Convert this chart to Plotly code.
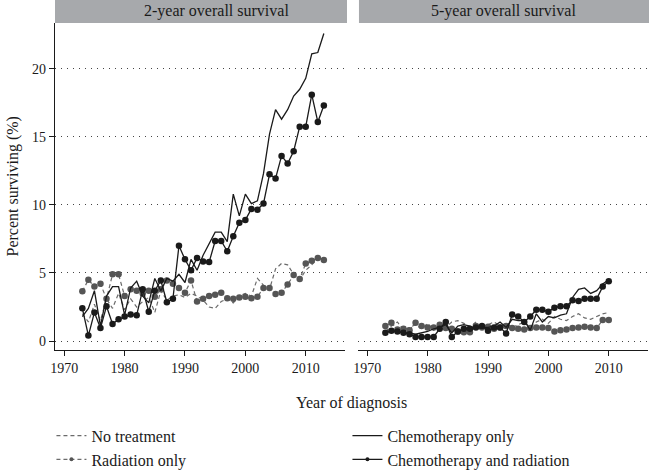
import plotly.graph_objects as go

# ---------------- data ----------------
years_2yr = [1973, 1974, 1975, 1976, 1977, 1978, 1979, 1980, 1981, 1982,
             1983, 1984, 1985, 1986, 1987, 1988, 1989, 1990, 1991, 1992,
             1993, 1994, 1995, 1996, 1997, 1998, 1999, 2000, 2001, 2002,
             2003, 2004, 2005, 2006, 2007, 2008, 2009, 2010, 2011, 2012, 2013]

no_treatment_2yr = [2.0, 1.4, 2.7, 1.5, 3.1, 2.4, 3.5, 2.3, 3.1, 2.5,
                    2.9, 3.2, 2.1, 3.7, 3.0, 3.3, 3.4, 3.2, 3.5, 3.3,
                    3.0, 2.5, 2.4, 2.9, 3.1, 2.8, 3.3, 3.5, 3.3, 4.6,
                    4.1, 3.8, 5.3, 5.7, 5.6, 4.9, 4.5, 5.2, 5.6, 6.1, 5.8]

radiation_2yr = [3.65, 4.5, 4.0, 4.2, 3.1, 4.9, 4.9, 3.3, 3.8, 3.7,
                 3.5, 3.7, 3.25, 3.8, 4.45, 4.2, 3.9, 3.55, 4.45, 2.9,
                 3.1, 3.3, 3.4, 3.55, 3.15, 3.1, 3.2, 3.25, 3.15, 3.25,
                 3.9, 3.9, 3.45, 3.55, 4.15, 4.85, 4.55, 5.7, 5.9, 6.1, 5.95]

chemo_2yr = [1.8, 2.4, 3.7, 1.1, 3.3, 4.0, 4.0, 1.9, 3.9, 4.4,
             3.3, 2.8, 4.6, 3.7, 4.6, 4.4, 4.9, 4.3, 6.0, 5.2,
             6.3, 7.2, 8.0, 8.0, 7.3, 10.8, 9.2, 10.8, 10.1, 10.3,
             12.3, 15.2, 17.0, 16.3, 17.0, 18.0, 18.5, 19.3, 21.1, 21.2, 22.6]

chemo_rad_2yr = [2.4, 0.4, 2.1, 0.95, 2.55, 1.25, 1.6, 1.8, 1.95, 1.9,
                 3.8, 2.15, 3.7, 4.45, 2.85, 3.1, 7.0, 6.0, 5.2, 6.1,
                 5.85, 5.8, 7.35, 7.35, 6.6, 7.7, 8.7, 8.9, 9.7, 9.65,
                 10.1, 12.25, 11.95, 13.6, 13.05, 13.95, 15.75, 15.75, 18.1, 16.1, 17.3]

years_5yr = [1973, 1974, 1975, 1976, 1977, 1978, 1979, 1980, 1981, 1982,
             1983, 1984, 1985, 1986, 1987, 1988, 1989, 1990, 1991, 1992,
             1993, 1994, 1995, 1996, 1997, 1998, 1999, 2000, 2001, 2002,
             2003, 2004, 2005, 2006, 2007, 2008, 2009, 2010]

no_treatment_5yr = [0.7, 1.1, 1.4, 0.8, 1.0, 1.2, 0.9, 1.3, 0.8, 1.3,
                    1.0, 1.4, 1.5, 1.3, 1.0, 1.4, 0.9, 1.2, 1.4, 1.1,
                    1.3, 1.0, 1.2, 1.4, 1.0, 1.4, 1.6, 1.3, 1.8, 1.6,
                    1.5, 1.8, 2.0, 1.7, 1.6, 1.8, 2.0, 2.1]

radiation_5yr = [1.1, 1.35, 0.85, 0.9, 0.8, 1.35, 1.1, 1.0, 1.0, 1.2,
                 0.95, 0.9, 0.7, 0.65, 0.65, 1.1, 1.0, 1.05, 0.9, 1.0,
                 1.1, 0.95, 0.9, 0.85, 0.95, 1.0, 1.0, 0.95, 0.7, 0.8,
                 0.85, 0.95, 1.0, 1.05, 1.0, 0.95, 1.55, 1.55]

chemo_5yr = [0.7, 0.7, 0.7, 0.6, 0.6, 0.5, 0.6, 0.7, 0.9, 1.0,
             1.2, 0.6, 1.1, 1.2, 1.1, 0.9, 1.0, 1.0, 1.1, 1.4,
             1.0, 1.6, 1.5, 1.5, 0.8, 2.0, 1.4, 1.8, 1.7, 1.9,
             2.0, 3.2, 3.8, 3.9, 3.5, 3.7, 4.2, 4.5]

chemo_rad_5yr = [0.6, 0.75, 0.7, 0.6, 0.5, 0.3, 0.3, 0.3, 0.3, 0.9,
                 1.4, 0.3, 0.7, 0.9, 0.9, 1.0, 1.1, 0.75, 1.0, 1.0,
                 0.55, 1.95, 1.8, 1.4, 1.8, 2.3, 2.3, 2.15, 2.45, 2.55,
                 2.55, 3.0, 2.95, 3.1, 3.1, 3.1, 4.0, 4.4]

panel_titles = ["2-year overall survival", "5-year overall survival"]
series_names = ["No treatment", "Chemotherapy only", "Radiation only",
                "Chemotherapy and radiation"]
x_ticks = [1970, 1980, 1990, 2000, 2010]
y_ticks = [0, 5, 10, 15, 20]

# ---------------- styling ----------------
FONT = "Liberation Serif"
GRAY = "#6b6b6b"
DGRAY = "#555555"
BLACK = "#1a1a1a"

styles = {
    "No treatment": dict(mode="lines", line=dict(color=GRAY, width=1.2, dash="4px,3px")),
    "Radiation only": dict(mode="lines+markers", line=dict(color=GRAY, width=1.2, dash="4px,3px"),
                           marker=dict(color=DGRAY, size=6.5)),
    "Chemotherapy only": dict(mode="lines", line=dict(color=BLACK, width=1.3)),
    "Chemotherapy and radiation": dict(mode="lines+markers", line=dict(color=BLACK, width=1.3),
                                       marker=dict(color=BLACK, size=6.5)),
}

fig = go.Figure()

panels = [
    ("x", "y", years_2yr, {"No treatment": no_treatment_2yr, "Radiation only": radiation_2yr,
                           "Chemotherapy only": chemo_2yr, "Chemotherapy and radiation": chemo_rad_2yr}),
    ("x2", "y2", years_5yr, {"No treatment": no_treatment_5yr, "Radiation only": radiation_5yr,
                             "Chemotherapy only": chemo_5yr, "Chemotherapy and radiation": chemo_rad_5yr}),
]

draw_order = ["No treatment", "Radiation only", "Chemotherapy only", "Chemotherapy and radiation"]
for xa, ya, yrs, data in panels:
    for name in draw_order:
        fig.add_trace(go.Scatter(x=yrs, y=data[name], name=name, xaxis=xa, yaxis=ya,
                                 showlegend=False, hoverinfo="skip", **styles[name]))

# legend-only entries (small markers like the reference key)
for name in series_names:
    st = dict(styles[name])
    if "marker" in st:
        st["marker"] = dict(st["marker"], size=4)
    fig.add_trace(go.Scatter(x=[None], y=[None], name=name, showlegend=True, **st))

axis_common = dict(range=[1968.47, 2016.5], tickvals=x_ticks, ticks="outside", ticklen=5,
                   tickwidth=1.1, tickcolor=BLACK, showline=True, linecolor=BLACK, linewidth=1.2,
                   showgrid=False, zeroline=False, tickfont=dict(family=FONT, size=14, color=BLACK))
grid_common = dict(range=[-0.66, 23.37], tickvals=y_ticks, showgrid=True, gridcolor="#444444",
                   gridwidth=1.1, griddash="1px,5px", zeroline=False)

fig.update_layout(
    width=649, height=470,
    margin=dict(l=55, r=1, t=23, b=120, autoexpand=False),
    paper_bgcolor="white", plot_bgcolor="white",
    font=dict(family=FONT, size=16, color=BLACK),
    xaxis=dict(domain=[0, 0.489], anchor="y", **axis_common),
    xaxis2=dict(domain=[0.511, 1.0], anchor="y2", **axis_common),
    yaxis=dict(anchor="x", ticks="outside", ticklen=5, tickwidth=1.1, tickcolor=BLACK,
               showline=True, linecolor=BLACK, linewidth=1.2,
               tickfont=dict(family=FONT, size=14, color=BLACK), **grid_common),
    yaxis2=dict(anchor="x2", matches="y", showticklabels=False, ticks="", showline=False, **grid_common),
    showlegend=True,
    legend=dict(orientation="h", x=-0.006, xanchor="left", y=-0.21, yanchor="top",
                entrywidth=251, entrywidthmode="pixels", itemwidth=30,
                font=dict(family=FONT, size=16, color=BLACK), bgcolor="rgba(0,0,0,0)",
                traceorder="normal", tracegroupgap=0),
)

# strip headers
strip_h = 23 / 327
for (x0, x1), title, tx in zip([(0, 0.4924), (0.5126, 1.002)], panel_titles, [0.273, 0.756]):
    fig.add_shape(type="rect", xref="paper", yref="paper", x0=x0, x1=x1, y0=1.0, y1=1 + strip_h,
                  fillcolor="#a7a9ac", line=dict(width=0), layer="below")
    fig.add_annotation(text=title, xref="paper", yref="paper", x=tx, y=1 + strip_h / 2,
                       showarrow=False, xanchor="center", yanchor="middle",
                       font=dict(family=FONT, size=16, color=BLACK))

# axis titles
fig.add_annotation(text="Year of diagnosis", xref="paper", yref="paper", x=0.5008, y=-0.162,
                   showarrow=False, xanchor="center", yanchor="middle",
                   font=dict(family=FONT, size=16, color=BLACK))
fig.add_annotation(text="Percent surviving (%)", xref="paper", yref="paper", x=-0.0725, y=0.5,
                   showarrow=False, textangle=-90, xanchor="center", yanchor="middle",
                   font=dict(family=FONT, size=16, color=BLACK))

fig.write_html("out.html", config={"displayModeBar": False},
               post_script="document.body.style.margin='0px';")
